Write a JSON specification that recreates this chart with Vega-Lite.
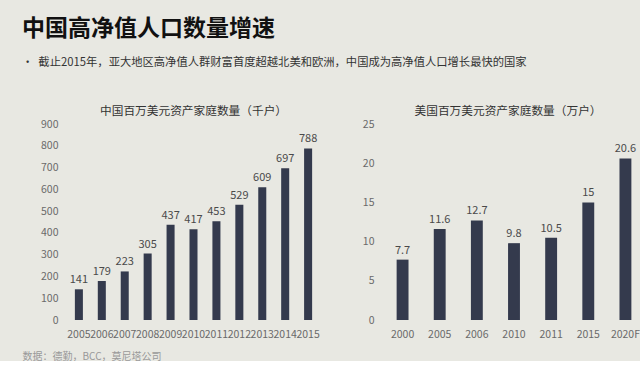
{
  "$schema": "https://vega.github.io/schema/vega-lite/v6.json",
  "background": "#e8e8e2",
  "padding": {"left": 22, "top": 17, "right": 0, "bottom": 0},
  "title": {
    "text": "中国高净值人口数量增速",
    "subtitle": "\u00a0\u00a0•\u00a0\u00a0截止2015年，亚大地区高净值人群财富首度超越北美和欧洲，中国成为高净值人口增长最快的国家",
    "anchor": "start",
    "fontSize": 23,
    "fontWeight": "bold",
    "color": "#111111",
    "subtitleFontSize": 11.3,
    "subtitleColor": "#333333",
    "subtitlePadding": 16.5,
    "offset": 38
  },
  "config": {
    "font": "Noto Sans CJK SC",
    "view": {"stroke": null},
    "axis": {"grid": false, "domain": false, "ticks": false, "labelColor": "#6a6a6a", "labelFontSize": 10.5, "labelPadding": 10},
    "title": {"fontSize": 11.7, "fontWeight": "normal", "color": "#333333", "offset": 1}
  },
  "spacing": 42,
  "hconcat": [
    {
      "width": 251,
      "height": 196,
      "title": {"text": "中国百万美元资产家庭数量（千户）"},
      "data": {"values": [
        {"year": "2005", "value": 141}, {"year": "2006", "value": 179}, {"year": "2007", "value": 223},
        {"year": "2008", "value": 305}, {"year": "2009", "value": 437}, {"year": "2010", "value": 417},
        {"year": "2011", "value": 453}, {"year": "2012", "value": 529}, {"year": "2013", "value": 609},
        {"year": "2014", "value": 697}, {"year": "2015", "value": 788}
      ]},
      "encoding": {
        "x": {"field": "year", "type": "nominal", "scale": {"paddingInner": 0.65, "paddingOuter": 0.3},
          "axis": {"labelAngle": 0, "labelPadding": 9, "title": "数据：德勤，BCC，莫尼塔公司", "titleFontSize": 10, "titleFontWeight": "normal", "titleColor": "#999999", "titleX": -46, "titleY": 36, "titleAlign": "left", "titleBaseline": "middle"}},
        "y": {"field": "value", "type": "quantitative", "scale": {"domain": [0, 900]},
          "axis": {"title": null, "values": [0, 100, 200, 300, 400, 500, 600, 700, 800, 900], "minExtent": 46}}
      },
      "layer": [
        {"mark": {"type": "bar", "color": "#343a4d"}},
        {"mark": {"type": "text", "dy": -9, "fontSize": 11, "color": "#4a4a4a"}, "encoding": {"text": {"field": "value", "type": "quantitative"}}}
      ]
    },
    {
      "width": 260,
      "height": 196,
      "title": {"text": "美国百万美元资产家庭数量（万户）", "dx": -6},
      "data": {"values": [
        {"year": "2000", "value": 7.7}, {"year": "2005", "value": 11.6}, {"year": "2006", "value": 12.7},
        {"year": "2010", "value": 9.8}, {"year": "2011", "value": 10.5}, {"year": "2015", "value": 15},
        {"year": "2020F", "value": 20.6}
      ]},
      "encoding": {
        "x": {"field": "year", "type": "nominal", "scale": {"paddingInner": 0.68, "paddingOuter": 0.34},
          "axis": {"labelAngle": 0, "labelPadding": 9, "title": null}},
        "y": {"field": "value", "type": "quantitative", "scale": {"domain": [0, 25]},
          "axis": {"title": null, "values": [0, 5, 10, 15, 20, 25]}}
      },
      "layer": [
        {"mark": {"type": "bar", "color": "#343a4d"}},
        {"mark": {"type": "text", "dy": -9, "fontSize": 11, "color": "#4a4a4a"}, "encoding": {"text": {"field": "value", "type": "quantitative"}}}
      ]
    }
  ]
}
